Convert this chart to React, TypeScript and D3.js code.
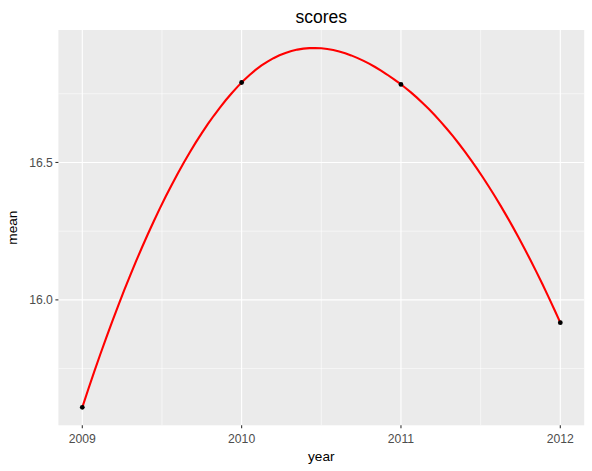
import React from "react";
import * as d3 from "d3";

const years = [2009, 2010, 2011, 2012];
const means = [15.609, 16.791, 16.784, 15.917];
const xTicks = [2009, 2010, 2011, 2012];
const xMinor = [2009.5, 2010.5, 2011.5];
const yTicks = [16.0, 16.5];
const yMinor = [15.75, 16.25, 16.75];

const W = 592, H = 471;
const M = { left: 58.4, right: 7.8, top: 30, bottom: 45.7 };

function lagrange(xs: number[], ys: number[], x: number) {
  let s = 0;
  for (let i = 0; i < xs.length; i++) {
    let p = ys[i];
    for (let j = 0; j < xs.length; j++) if (j !== i) p *= (x - xs[j]) / (xs[i] - xs[j]);
    s += p;
  }
  return s;
}

// local quadratic smoother (blend of neighbouring parabolas)
function smooth(x: number) {
  const p1 = lagrange(years.slice(0, 3), means.slice(0, 3), x);
  const p2 = lagrange(years.slice(1, 4), means.slice(1, 4), x);
  if (x <= years[1]) return p1;
  if (x >= years[2]) return p2;
  const w = (x - years[1]) / (years[2] - years[1]);
  return p1 * (1 - w) + p2 * w;
}

export default function App() {
  const xs = d3.range(0, 81).map((i) => years[0] + (i / 80) * (years[3] - years[0]));
  const smoothPts = xs.map((x) => [x, smooth(x)] as [number, number]);
  const allY = smoothPts.map((d) => d[1]).concat(means);
  const yMin = d3.min(allY)!, yMax = d3.max(allY)!;
  const yPad = (yMax - yMin) * 0.05;
  const xPad = (years[3] - years[0]) * 0.05;
  const x = d3.scaleLinear().domain([years[0] - xPad, years[3] + xPad]).range([M.left, W - M.right]);
  const y = d3.scaleLinear().domain([yMin - yPad, yMax + yPad]).range([H - M.bottom, M.top]);
  const line = d3.line<[number, number]>().x((d) => x(d[0])).y((d) => y(d[1]));
  const pw = W - M.right - M.left, ph = H - M.bottom - M.top;
  const font = "Liberation Sans, Arial, sans-serif";
  return (
    <svg width={W} height={H} style={{ position: "absolute", left: 0, top: 0 }} fontFamily={font}>
      <rect x={0} y={0} width={W} height={H} fill="#fff" />
      <rect x={M.left} y={M.top} width={pw} height={ph} fill="#EBEBEB" />
      {xMinor.map((v) => (
        <line key={"xm" + v} x1={x(v)} x2={x(v)} y1={M.top} y2={M.top + ph} stroke="#fff" strokeWidth={0.55} />
      ))}
      {yMinor.map((v) => (
        <line key={"ym" + v} x1={M.left} x2={M.left + pw} y1={y(v)} y2={y(v)} stroke="#fff" strokeWidth={0.55} />
      ))}
      {xTicks.map((v) => (
        <line key={"xg" + v} x1={x(v)} x2={x(v)} y1={M.top} y2={M.top + ph} stroke="#fff" strokeWidth={1.1} />
      ))}
      {yTicks.map((v) => (
        <line key={"yg" + v} x1={M.left} x2={M.left + pw} y1={y(v)} y2={y(v)} stroke="#fff" strokeWidth={1.1} />
      ))}
      <path d={line(smoothPts)!} fill="none" stroke="#FF0000" strokeWidth={2.1} />
      {years.map((yr, i) => (
        <circle key={yr} cx={x(yr)} cy={y(means[i])} r={2.4} fill="#000" />
      ))}
      {xTicks.map((v) => (
        <g key={"xt" + v}>
          <line x1={x(v)} x2={x(v)} y1={M.top + ph} y2={M.top + ph + 3} stroke="#333" strokeWidth={1.1} />
          <text x={x(v)} y={M.top + ph + 17.8} textAnchor="middle" fontSize={12.2} fill="#4D4D4D">{v}</text>
        </g>
      ))}
      {yTicks.map((v) => (
        <g key={"yt" + v}>
          <line x1={M.left - 3} x2={M.left} y1={y(v)} y2={y(v)} stroke="#333" strokeWidth={1.1} />
          <text x={M.left - 5.5} y={y(v)} dy="0.35em" textAnchor="end" fontSize={12.2} fill="#4D4D4D">{v.toFixed(1)}</text>
        </g>
      ))}
      <text x={M.left + pw / 2} y={460.5} textAnchor="middle" fontSize={13.6} fill="#000">year</text>
      <text transform={`translate(16.5,${M.top + ph / 2}) rotate(-90)`} textAnchor="middle" fontSize={13.6} fill="#000">mean</text>
      <text x={M.left + pw / 2} y={22.5} textAnchor="middle" fontSize={17.5} fill="#000">scores</text>
    </svg>
  );
}
